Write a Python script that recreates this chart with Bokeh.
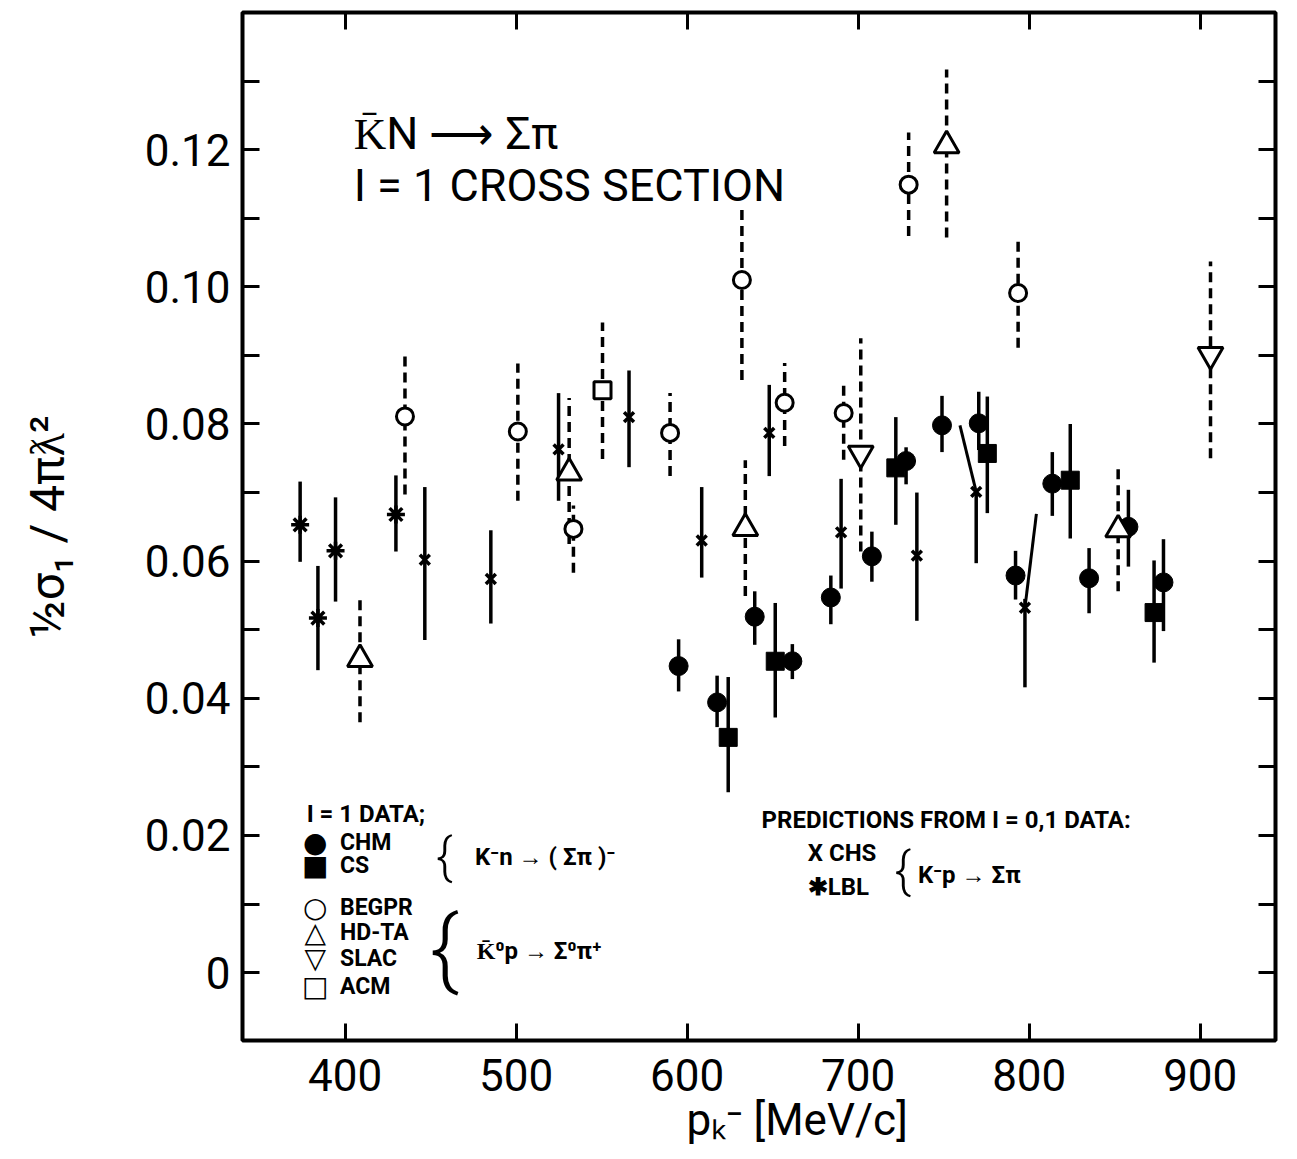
from bokeh.plotting import figure
from bokeh.models import (ColumnDataSource, FixedTicker, LinearAxis, Range1d,
                          CustomJSTickFormatter, Label)
from bokeh.embed import file_html
from bokeh.resources import INLINE

# ---------------- data ----------------
# I=1 data, K- n -> (Sigma pi)-
chm_x = [595, 617.5, 639.5, 661.5, 684, 708, 728, 749, 770.5, 792, 813.5, 835, 858, 878.5]
chm_y = [0.0447, 0.0394, 0.0519, 0.0454, 0.0547, 0.0607, 0.0746, 0.0798, 0.0801, 0.0579, 0.0713, 0.0575, 0.0650, 0.0569]
chm_lo = [0.0410, 0.0358, 0.0478, 0.0428, 0.0508, 0.0570, 0.0712, 0.0759, 0.0762, 0.0544, 0.0666, 0.0524, 0.0592, 0.0498]
chm_hi = [0.0486, 0.0433, 0.0556, 0.0479, 0.0579, 0.0643, 0.0766, 0.0841, 0.0847, 0.0615, 0.0759, 0.0619, 0.0704, 0.0632]

cs_x = [624, 651.5, 722, 775.5, 824, 873]
cs_y = [0.0343, 0.0454, 0.0736, 0.0757, 0.0718, 0.0525]
cs_lo = [0.0263, 0.0372, 0.0653, 0.0670, 0.0633, 0.0452]
cs_hi = [0.0431, 0.0539, 0.0810, 0.0840, 0.0800, 0.0601]

# I=1 data, K0bar p -> Sigma0 pi+
begpr_x = [435, 501, 533.5, 590, 632, 657, 691.5, 729.5, 793.5]
begpr_y = [0.0811, 0.0789, 0.0647, 0.0787, 0.1010, 0.0831, 0.0816, 0.1149, 0.0991]
begpr_lo = [0.0697, 0.0688, 0.0583, 0.0724, 0.0864, 0.0768, 0.0748, 0.1074, 0.0911]
begpr_hi = [0.0905, 0.0888, 0.0681, 0.0845, 0.1117, 0.0889, 0.0864, 0.1225, 0.1067]

hdta_x = [408.7, 531, 634, 751.7, 852]
hdta_y = [0.0457, 0.0729, 0.0648, 0.1206, 0.0646]
hdta_lo = [0.0365, 0.0625, 0.0549, 0.1072, 0.0556]
hdta_hi = [0.0545, 0.0838, 0.0747, 0.1317, 0.0736]

slac_x = [701.5, 906]
slac_y = [0.0757, 0.0901]
slac_lo = [0.0614, 0.0750]
slac_hi = [0.0925, 0.1037]

acm_x = [550.5]
acm_y = [0.0849]
acm_lo = [0.0749]
acm_hi = [0.0948]

# predictions from I = 0,1 data, K- p -> Sigma pi
chs_x = [446.6, 485.2, 524.8, 566, 608.5, 648, 690, 734.3, 769, 797.5]
chs_y = [0.0602, 0.0574, 0.0763, 0.0810, 0.0630, 0.0787, 0.0642, 0.0608, 0.0701, 0.0532]
chs_lo = [0.0485, 0.0509, 0.0688, 0.0737, 0.0576, 0.0724, 0.0560, 0.0513, 0.0597, 0.0416]
chs_hi = [0.0708, 0.0645, 0.0845, 0.0878, 0.0708, 0.0857, 0.0720, 0.0700, 0.0701, 0.0545]

lbl_x = [373.7, 384.1, 394.4, 429.7]
lbl_y = [0.0653, 0.0517, 0.0615, 0.0668]
lbl_lo = [0.0599, 0.0441, 0.0541, 0.0614]
lbl_hi = [0.0716, 0.0593, 0.0693, 0.0725]

# slanted connecting lines drawn next to two CHS points
link_x0 = [759.5, 797.5]
link_y0 = [0.0798, 0.0532]
link_x1 = [769, 804.2]
link_y1 = [0.0701, 0.0669]

x_ticks = [400, 500, 600, 700, 800, 900]
y_ticks = [0, 0.02, 0.04, 0.06, 0.08, 0.10, 0.12]
y_minor = [0.01, 0.03, 0.05, 0.07, 0.09, 0.11, 0.13]

# ---------------- figure ----------------
FONT = "Roboto"
p = figure(width=1289, height=1151,
           x_range=Range1d(340, 944), y_range=Range1d(-0.0099, 0.14),
           output_backend="svg", toolbar_location=None,
           min_border_left=242, min_border_right=14,
           min_border_top=12, min_border_bottom=111)
p.grid.visible = False
p.outline_line_color = "black"
p.outline_line_width = 4
p.background_fill_color = "white"
p.border_fill_color = "white"

xa = p.xaxis[0]
xa.ticker = FixedTicker(ticks=x_ticks)
xa.major_tick_in = 17
xa.major_tick_out = 0
xa.major_tick_line_width = 3
xa.minor_tick_line_color = None
xa.axis_line_color = None
xa.major_label_text_font = FONT
xa.major_label_text_font_size = "44px"
xa.major_label_text_color = "black"
xa.major_label_standoff = 18
xa.axis_label = "\u00a0" * 7 + "pₖ⁻ [MeV/c]"
xa.axis_label_text_font = FONT
xa.axis_label_text_font_size = "44px"
xa.axis_label_text_font_style = "normal"
xa.axis_label_text_color = "black"
xa.axis_label_standoff = 0

ya = p.yaxis[0]
ya.ticker = FixedTicker(ticks=y_ticks, minor_ticks=y_minor)
ya.formatter = CustomJSTickFormatter(code="return tick == 0 ? '0' : tick.toFixed(2);")
ya.major_tick_in = 17
ya.major_tick_out = 0
ya.major_tick_line_width = 3
ya.minor_tick_in = 17
ya.minor_tick_out = 0
ya.minor_tick_line_width = 3
ya.axis_line_color = None
ya.major_label_text_font = FONT
ya.major_label_text_font_size = "44px"
ya.major_label_text_color = "black"
ya.major_label_standoff = 12
ya.axis_label = "½σ₁ / 4πƛ²"
ya.axis_label_text_font = FONT
ya.axis_label_text_font_size = "48px"
ya.axis_label_text_font_style = "normal"
ya.axis_label_text_color = "black"
ya.axis_label_standoff = 66

top = LinearAxis(ticker=FixedTicker(ticks=x_ticks),
                 formatter=CustomJSTickFormatter(code="return '';"),
                 major_tick_in=17, major_tick_out=0, major_tick_line_width=3,
                 minor_tick_line_color=None, axis_line_color=None,
                 major_label_text_font_size="0px", major_label_standoff=0)
p.add_layout(top, "above")
right = LinearAxis(ticker=FixedTicker(ticks=y_ticks, minor_ticks=y_minor),
                   formatter=CustomJSTickFormatter(code="return '';"),
                   major_tick_in=17, major_tick_out=0, major_tick_line_width=3,
                   minor_tick_in=17, minor_tick_out=0, minor_tick_line_width=3,
                   axis_line_color=None,
                   major_label_text_font_size="0px", major_label_standoff=0)
p.add_layout(right, "right")

# ---------------- error bars ----------------
def bars(xs, lo, hi, dashed):
    src = ColumnDataSource(dict(x=xs, lo=lo, hi=hi))
    p.segment(x0="x", y0="lo", x1="x", y1="hi", source=src,
              line_color="black", line_width=3.5,
              line_dash="10 6" if dashed else "solid")

bars(chm_x, chm_lo, chm_hi, False)
bars(cs_x, cs_lo, cs_hi, False)
bars(chs_x, chs_lo, chs_hi, False)
bars(lbl_x, lbl_lo, lbl_hi, False)
bars(begpr_x, begpr_lo, begpr_hi, True)
bars(hdta_x, hdta_lo, hdta_hi, True)
bars(slac_x, slac_lo, slac_hi, True)
bars(acm_x, acm_lo, acm_hi, True)

p.segment(x0=link_x0, y0=link_y0, x1=link_x1, y1=link_y1,
          line_color="black", line_width=3)

# ---------------- markers ----------------
p.scatter(chm_x, chm_y, marker="circle", size=19, fill_color="black", line_color="black")
p.scatter(cs_x, cs_y, marker="square", size=18, fill_color="black", line_color="black")
p.scatter(begpr_x, begpr_y, marker="circle", size=17, fill_color="white",
          line_color="black", line_width=3)
p.scatter(hdta_x, hdta_y, marker="triangle", size=25, fill_color="white",
          line_color="black", line_width=3)
p.scatter(slac_x, slac_y, marker="inverted_triangle", size=25, fill_color="white",
          line_color="black", line_width=3)
p.scatter(acm_x, acm_y, marker="square", size=17, fill_color="white",
          line_color="black", line_width=3)
p.scatter(chs_x, chs_y, marker="x", size=14, line_color="black", line_width=3.5)
p.scatter(lbl_x, lbl_y, marker="asterisk", size=18, line_color="black", line_width=3.5)

# ---------------- texts ----------------
def lab(x, y, t, size, font=FONT, align="left", baseline="alphabetic", style="normal"):
    p.add_layout(Label(x=x, y=y, text=t, text_font=font, text_font_size=size,
                       text_align=align, text_baseline=baseline,
                       text_font_style=style, text_color="black"))

lab(405, 0.1224, "K\u0304N \u27f6 \u03a3\u03c0", "45px")
lab(405, 0.1148, "I = 1 CROSS  SECTION", "45px")

# left legend
lab(377.5, 0.0232, "I = 1  DATA;", "24px", style="bold")
sym_x = 382.5
name_x = 397
for yy, sym, name in [(0.0190, "\u25cf", "CHM"), (0.0156, "\u25a0", "CS"),
                      (0.0095, "\u25cb", "BEGPR"), (0.0058, "\u25b3", "HD-TA"),
                      (0.0020, "\u25bd", "SLAC"), (-0.0020, "\u25a1", "ACM")]:
    lab(sym_x, yy, sym, "28px", font="DejaVu Sans", align="center", baseline="middle")
    lab(name_x, yy, name, "23px", baseline="middle", style="bold")
lab(458, 0.0170, "{", "50px", font="Roboto Light", align="center", baseline="middle")
lab(476, 0.0168, "K\u207bn \u2192 ( \u03a3\u03c0 )\u207b", "24px", baseline="middle", style="bold")
lab(458, 0.0036, "{", "88px", font="Roboto Light", align="center", baseline="middle")
lab(477, 0.0032, "K\u0304\u2070p \u2192 \u03a3\u2070\u03c0\u207a", "24px", baseline="middle", style="bold")

# right legend
lab(643.5, 0.0222, "PREDICTIONS FROM I = 0,1 DATA:", "24px", style="bold")
lab(670.5, 0.0174, "X CHS", "24px", baseline="middle", style="bold")
lab(670.5, 0.0125, "\u2731LBL", "24px", baseline="middle", style="bold")
lab(726, 0.0150, "{", "50px", font="Roboto Light", align="center", baseline="middle")
lab(735, 0.0143, "K\u207bp \u2192 \u03a3\u03c0", "24px", baseline="middle", style="bold")

open("out.html", "w").write(file_html(p, INLINE))
